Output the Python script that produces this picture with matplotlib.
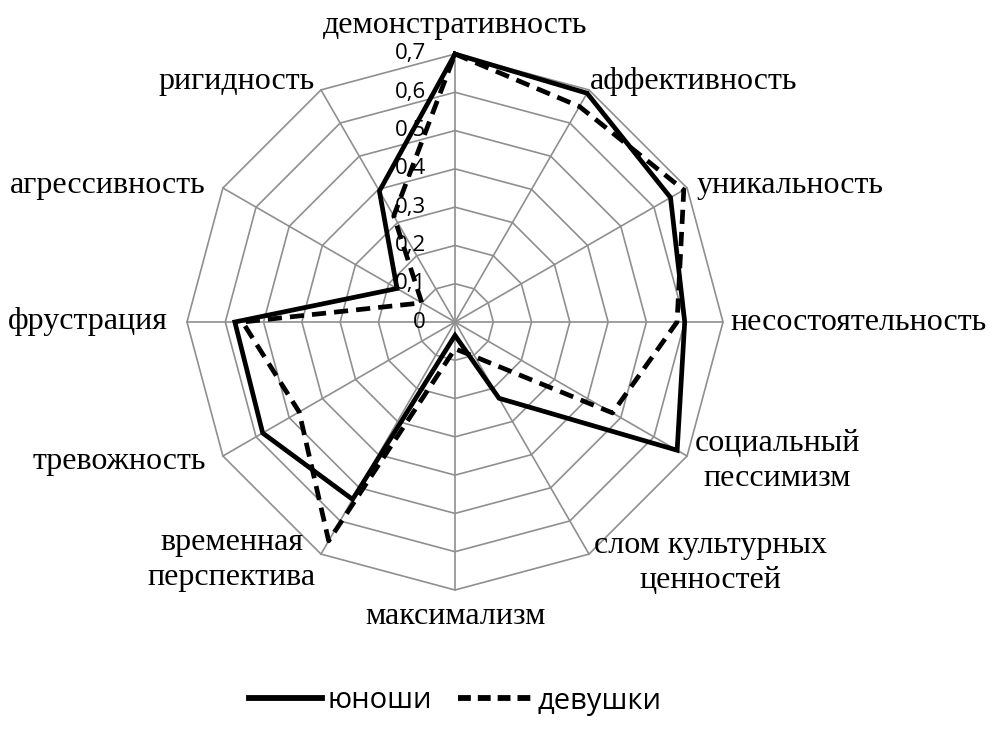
import numpy as np
import matplotlib
matplotlib.use("Agg")
import matplotlib.pyplot as plt
from matplotlib.lines import Line2D

categories = ["демонстративность", "аффективность", "уникальность", "несостоятельность",
              "социальный\nпессимизм", "слом культурных\nценностей", "максимализм",
              "временная\nперспектива", "тревожность", "фрустрация", "агрессивность", "ригидность"]
boys = [0.70, 0.69, 0.65, 0.60, 0.67, 0.23, 0.035, 0.535, 0.58, 0.575, 0.175, 0.395]
girls = [0.70, 0.65, 0.69, 0.58, 0.475, 0.105, 0.07, 0.66, 0.47, 0.555, 0.10, 0.32]
ticks = [0, 0.1, 0.2, 0.3, 0.4, 0.5, 0.6, 0.7]
tick_labels = ["0", "0,1", "0,2", "0,3", "0,4", "0,5", "0,6", "0,7"]
series_names = ["юноши", "девушки"]

W, H = 990, 742
fig = plt.figure(figsize=(W / 100, H / 100), dpi=100)
cx, cy, R = 455, 322, 268
ax = fig.add_axes([(cx - R) / W, (H - cy - R) / H, 2 * R / W, 2 * R / H], projection="polar")
ax.set_theta_zero_location("N")
ax.set_theta_direction(-1)
ax.set_ylim(0, 0.7)
ax.grid(False)
ax.spines["polar"].set_visible(False)
ax.set_xticks([])
ax.set_yticks([])
ax.patch.set_alpha(0)

n = len(categories)
theta = np.arange(n) * 2 * np.pi / n
theta_c = np.append(theta, theta[0])

grid_col = "#8f8f8f"
for t in ticks[1:]:
    ax.plot(theta_c, [t] * (n + 1), color=grid_col, lw=1.2, zorder=1, clip_on=False)
for th in theta:
    ax.plot([th, th], [0, ticks[-1]], color=grid_col, lw=1.2, zorder=1, clip_on=False)

for t, lab in zip(ticks, tick_labels):
    ax.annotate(lab, xy=(0, t), xytext=(-21, 0), textcoords="offset points",
                ha="right", va="center", fontsize=16, family="Open Sans", zorder=2)

ax.plot(theta_c, boys + boys[:1], color="black", lw=3.4, zorder=4, clip_on=False,
        solid_joinstyle="miter")
ax.plot(theta_c, girls + girls[:1], color="black", lw=3.4, zorder=3, clip_on=False,
        linestyle=(0, (3.0, 1.7)))

label_pos = [
    (455, 25, "center"), (590, 82, "left"), (697, 186, "left"), (730, 323, "left"),
    (777, 461, "center"), (710, 563, "center"), (455, 617, "center"),
    (232, 560, "center"), (206, 462, "right"), (168, 322, "right"),
    (206, 185, "right"), (315, 82, "right"),
]
for lab, (x, y, ha) in zip(categories, label_pos):
    fig.text(x / W, 1 - y / H, lab, ha=ha, va="center", fontsize=23,
             family="Liberation Serif", multialignment="center", linespacing=1.3)

handles = [Line2D([], [], color="black", lw=4.2),
           Line2D([], [], color="black", lw=4.2, linestyle=(0, (2.2, 1.2)))]
fig.legend(handles, series_names, loc="center", bbox_to_anchor=(455 / W, 1 - 701 / H),
           ncol=2, frameon=False, prop={"family": "Open Sans", "size": 21},
           handlelength=2.5, handletextpad=0.2, columnspacing=0.9)

fig.savefig("out.png", dpi=100, facecolor="white")
